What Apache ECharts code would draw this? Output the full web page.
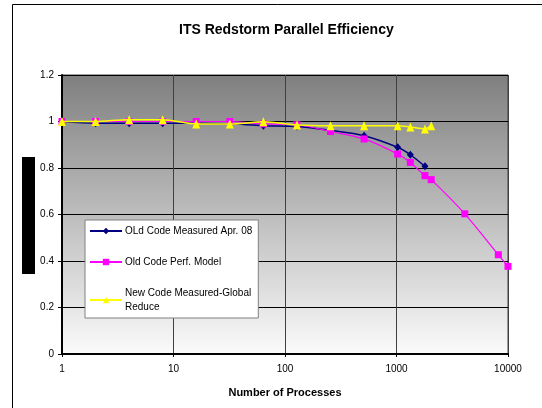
<!DOCTYPE html>
<html>
<head>
<meta charset="utf-8">
<script src="https://cdn.jsdelivr.net/npm/echarts@6/dist/echarts.min.js"></script>
<style>
html,body{margin:0;padding:0;background:#fff;}
#c{width:542px;height:408px;}
</style>
</head>
<body>
<div id="c"></div>
<script>
// ---- data ----
var oldMeasuredX = [1, 2, 4, 8, 16, 32, 64, 128, 256, 512, 1024, 1331, 1800];
var oldMeasuredY = [1.0, 0.993, 0.993, 0.993, 0.993, 0.99, 0.982, 0.979, 0.962, 0.939, 0.889, 0.857, 0.807];

var perfModelX = [1, 2, 4, 8, 16, 32, 64, 128, 256, 512, 1024, 1331, 1800, 2048, 4096, 8192, 10000];
var perfModelY = [1.0, 1.0, 1.0, 1.0, 1.0, 1.0, 0.99, 0.986, 0.957, 0.925, 0.86, 0.824, 0.767, 0.75, 0.603, 0.427, 0.377];

var newCodeX = [1, 2, 4, 8, 16, 32, 64, 128, 256, 512, 1024, 1331, 1800, 2048];
var newCodeY = [1.0, 1.0, 1.008, 1.008, 0.989, 0.989, 0.999, 0.985, 0.982, 0.982, 0.982, 0.976, 0.968, 0.982];

var seriesNames = ['OLd Code Measured Apr. 08', 'Old Code Perf. Model', 'New Code Measured-Global Reduce'];
var yTicks = [0, 0.2, 0.4, 0.6, 0.8, 1, 1.2];
var xTicks = [1, 10, 100, 1000, 10000];

function pairs(xs, ys) { return xs.map(function (x, i) { return [x, ys[i]]; }); }

var chart = echarts.init(document.getElementById('c'), null, {renderer: 'canvas'});
var font = 'Liberation Sans, Arial, sans-serif';

chart.setOption({
  animation: false,
  backgroundColor: '#ffffff',
  title: {
    text: 'ITS Redstorm Parallel Efficiency',
    left: 174, top: 18,
    textStyle: {fontFamily: font, fontSize: 14, fontWeight: 'bold', color: '#000'}
  },
  graphic: [
    {type: 'rect', shape: {x: 12.5, y: 4.5, width: 700, height: 600}, style: {fill: 'none', stroke: '#000', lineWidth: 1}, silent: true, z: 0},
    {type: 'rect', shape: {x: 22, y: 157, width: 13, height: 117}, style: {fill: '#000'}, silent: true, z: 10}
  ],
  grid: {
    left: 62, right: 34, top: 75, bottom: 54,
    show: true,
    borderColor: '#404040', borderWidth: 1,
    backgroundColor: new echarts.graphic.LinearGradient(0, 0, 0, 1, [
      {offset: 0, color: '#7f7f7f'},
      {offset: 1, color: '#fbfbfb'}
    ])
  },
  legend: {
    orient: 'vertical',
    left: 85, top: 220,
    width: 171,
    padding: [4, 6, 4, 4],
    itemGap: 17,
    itemWidth: 32, itemHeight: 8,
    backgroundColor: '#ffffff',
    borderColor: '#808080', borderWidth: 1,
    textStyle: {fontFamily: font, fontSize: 10, color: '#000', lineHeight: 14, padding: [0, 0, 0, -2]},
    formatter: function (n) { return n === seriesNames[2] ? 'New Code Measured-Global\nReduce' : n; },
    data: seriesNames
  },
  xAxis: {
    type: 'log', logBase: 10, min: xTicks[0], max: xTicks[xTicks.length - 1],
    name: 'Number of Processes', nameLocation: 'middle', nameGap: 33,
    nameTextStyle: {fontFamily: font, fontSize: 11, fontWeight: 'bold', color: '#000'},
    axisLine: {show: true, onZero: false, lineStyle: {color: '#000', width: 2}},
    axisTick: {show: true, length: 3, lineStyle: {color: '#000'}},
    minorTick: {show: false},
    axisLabel: {fontFamily: font, fontSize: 10, color: '#000', margin: 10,
      formatter: function (v) { return String(Math.round(v)); }},
    splitLine: {show: true, lineStyle: {color: '#404040', width: 1}}
  },
  yAxis: {
    type: 'value', min: yTicks[0], max: yTicks[yTicks.length - 1], interval: 0.2,
    axisLine: {show: true, lineStyle: {color: '#000', width: 2}},
    axisTick: {show: true, length: 4, lineStyle: {color: '#000'}},
    axisLabel: {fontFamily: font, fontSize: 10, color: '#000', margin: 8,
      formatter: function (v) { return String(Math.round(v * 10) / 10); }},
    splitLine: {show: true, lineStyle: {color: '#000', width: 1}}
  },
  series: [
    {
      name: seriesNames[0], type: 'line', data: pairs(oldMeasuredX, oldMeasuredY),
      smooth: 0.3, symbol: 'diamond', symbolSize: [7, 8],
      lineStyle: {color: '#000080', width: 1.5},
      itemStyle: {color: '#000080'}, z: 2
    },
    {
      name: seriesNames[1], type: 'line', data: pairs(perfModelX, perfModelY),
      smooth: 0.3, symbol: 'rect', symbolSize: 7,
      lineStyle: {color: '#ff00ff', width: 1.2},
      itemStyle: {color: '#ff00ff'}, z: 3
    },
    {
      name: seriesNames[2], type: 'line', data: pairs(newCodeX, newCodeY),
      smooth: 0.3, symbol: 'triangle', symbolSize: [8, 9],
      lineStyle: {color: '#ffff00', width: 1.5},
      itemStyle: {color: '#ffff00'}, z: 4
    }
  ]
});
</script>
</body>
</html>
